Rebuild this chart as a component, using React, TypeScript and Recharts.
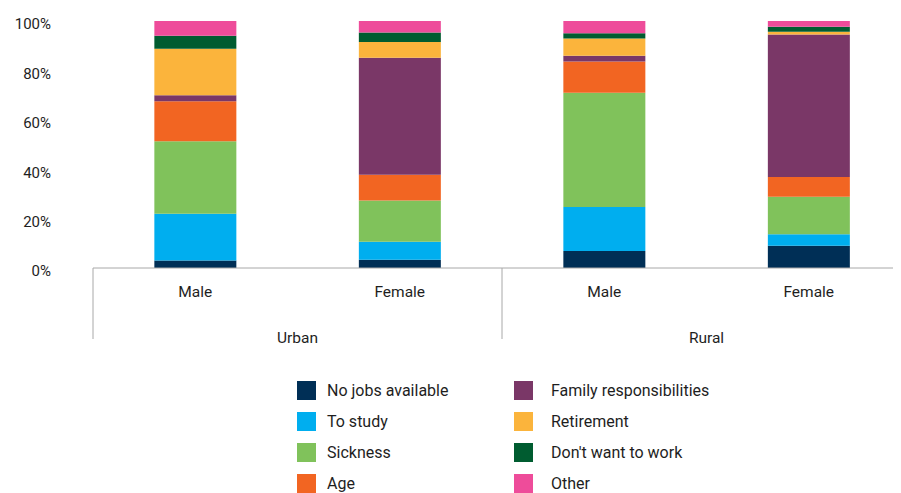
import React from 'react';
import { BarChart, Bar, XAxis, YAxis, Legend } from 'recharts';

const sexes = ['Male', 'Female', 'Male', 'Female'];
const regions = ['Urban', 'Urban', 'Rural', 'Rural'];

const noJobs = [3, 3.3, 6.9, 9.0];
const toStudy = [19, 7.3, 17.8, 4.7];
const sickness = [29.3, 16.7, 46.3, 15.1];
const age = [16.2, 10.5, 12.6, 8.0];
const family = [2.4, 47.3, 2.3, 57.7];
const retirement = [18.9, 6.4, 7.0, 1.1];
const dontWant = [5.2, 3.8, 2.1, 2.1];
const other = [6.0, 4.7, 5.0, 2.3];

const yTicks = [0, 20, 40, 60, 80, 100];

const series = [
  { key: 'noJobs', name: 'No jobs available', color: '#002f56', values: noJobs },
  { key: 'toStudy', name: 'To study', color: '#00aeef', values: toStudy },
  { key: 'sickness', name: 'Sickness', color: '#80c25b', values: sickness },
  { key: 'age', name: 'Age', color: '#f26522', values: age },
  { key: 'family', name: 'Family responsibilities', color: '#7a3767', values: family },
  { key: 'retirement', name: 'Retirement', color: '#fbb43c', values: retirement },
  { key: 'dontWant', name: "Don't want to work", color: '#005c30', values: dontWant },
  { key: 'other', name: 'Other', color: '#ee4c9a', values: other },
];

const data = sexes.map((sex, i) => {
  const row: any = { sex, region: regions[i] };
  series.forEach((s) => (row[s.key] = s.values[i]));
  return row;
});

const font = 'Roboto, "Noto Sans", sans-serif';
const textColor = '#1e1e1e';

const CategoryTick = (props: any) => {
  const { x, y, payload, index } = props;
  const half = payload && payload.offset != null ? payload.offset : 102;
  const groupStart = index === 0 || regions[index] !== regions[index - 1];
  return (
    <g>
      <text x={x} y={y + 29} textAnchor="middle" fill={textColor} fontSize={15.5} fontFamily={font}>
        {payload.value}
      </text>
      {groupStart && (
        <>
          <line x1={x - half} y1={y} x2={x - half} y2={y + 71} stroke="#a8a8a8" strokeWidth={1} />
          <text x={x + half} y={y + 75} textAnchor="middle" fill={textColor} fontSize={15.5} fontFamily={font}>
            {regions[index]}
          </text>
        </>
      )}
    </g>
  );
};

const LegendGrid = () => (
  <div
    style={{
      display: 'grid',
      gridTemplateRows: 'repeat(4, 31px)',
      gridAutoFlow: 'column',
      gridTemplateColumns: '217px 260px',
      height: 112,
      fontFamily: font,
      fontSize: 16,
      color: textColor,
    }}
  >
    {series.map((s, i) => (
      <div key={s.key} style={{ display: 'flex', alignItems: 'flex-start', height: 19 }}>
        <span style={{ width: 19, height: 19, background: s.color, display: 'inline-block', flex: 'none' }} />
        <span style={{ marginLeft: i < 4 ? 11 : 18, lineHeight: '19px', whiteSpace: 'nowrap' }}>{s.name}</span>
      </div>
    ))}
  </div>
);

export default function App() {
  return (
    <div style={{ width: 893, height: 485, overflow: 'hidden' }}>
      <BarChart
        width={903}
        height={485}
        data={data}
        margin={{ top: 13, right: 0, bottom: 0, left: 0 }}
        barCategoryGap="30%"
      >
        <YAxis
          domain={[0, 100]}
          ticks={yTicks}
          tickFormatter={(v) => `${v}%`}
          axisLine={false}
          tickLine={false}
          tickSize={0}
          tickMargin={42}
          width={85}
          tick={{ fill: textColor, fontSize: 15, fontFamily: font, dy: 3 }}
        />
        <XAxis
          dataKey="sex"
          interval={0}
          tickLine={false}
          tickSize={0}
          tickMargin={0}
          height={101}
          axisLine={{ stroke: '#a8a8a8' }}
          tick={<CategoryTick />}
        />
        <Legend
          verticalAlign="bottom"
          content={<LegendGrid />}
          wrapperStyle={{ left: 289, top: 373, width: 520, height: 124, bottom: 'auto' }}
        />
        {series.map((s) => (
          <Bar
            key={s.key}
            dataKey={s.key}
            name={s.name}
            stackId="a"
            fill={s.color}
            isAnimationActive={false}
          />
        ))}
      </BarChart>
    </div>
  );
}
